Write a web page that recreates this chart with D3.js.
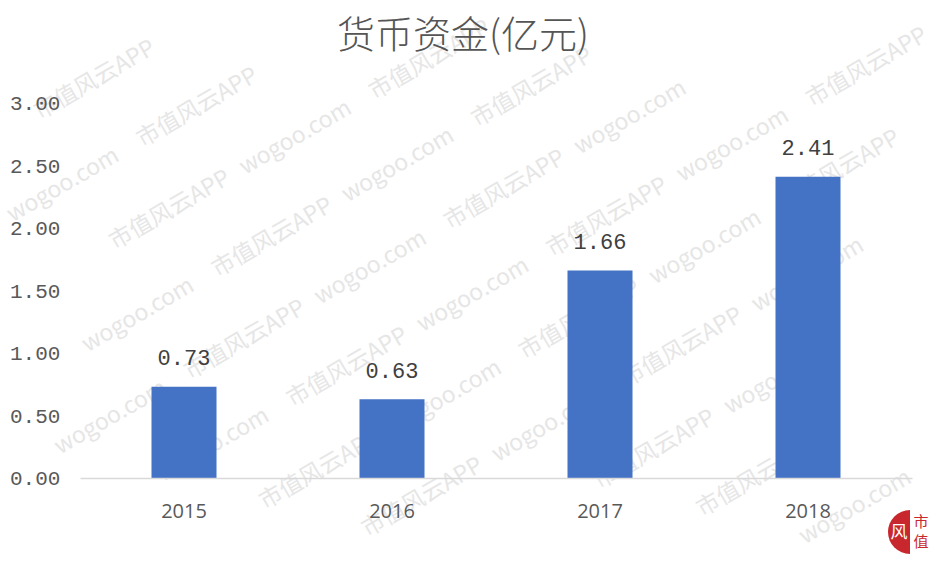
<!DOCTYPE html>
<html><head><meta charset="utf-8">
<script src="https://cdn.jsdelivr.net/npm/d3@7/dist/d3.min.js"></script>
<style>body{margin:0;background:#fff}svg{display:block}</style>
</head><body>
<script>
const categories = ["2015","2016","2017","2018"];
const values = [0.73, 0.63, 1.66, 2.41];
const yTicks = [0, 0.5, 1.0, 1.5, 2.0, 2.5, 3.0];
const title = "货币资金(亿元)";
const watermarkWords = ["市值风云APP", "wogoo.com"];

const W = 941, H = 562;
const svg = d3.select("body").append("svg").attr("width", W).attr("height", H);

// watermark (light, rotated, kept fully inside the canvas)
const wm = svg.append("g").attr("fill", "#e6e6e6")
  .style("font-family", "'Noto Sans CJK SC', 'DejaVu Sans', sans-serif").style("font-size", "23px");
const ang = -30 * Math.PI / 180;
const ux = Math.cos(ang), uy = Math.sin(ang);      // along text
const vx = -uy, vy = ux;                            // across lines
for (let r = -8; r < 14; r++) {
  for (let c = -8; c < 14; c++) {
    const along = c * 150 + (r % 2) * 75, across = r * 75;
    const px = 40 + along * ux + across * vx;
    const py = 120 + along * uy + across * vy;
    const wlen = 125;
    const ex = px + wlen * ux, ey = py + wlen * uy;
    if (px < 2 || ex > W - 2 || ey - 18 < 2 || py + 4 > H - 2) continue;
    wm.append("text").attr("transform", `translate(${px.toFixed(1)},${py.toFixed(1)}) rotate(-30)`)
      .text(watermarkWords[((c % 2) + 2) % 2]);
  }
}

const x = d3.scaleBand().domain(categories).range([80, 912]).paddingInner(0.6875).paddingOuter(0.34375);
const y = d3.scaleLinear().domain([0, 3]).range([478, 103]);

// y axis labels
const yAxis = d3.axisLeft(y).tickValues(yTicks).tickFormat(d3.format(".2f")).tickSize(0).tickPadding(0);
const ya = svg.append("g").attr("transform", "translate(10,0)").call(yAxis);
ya.select(".domain").remove();
ya.selectAll("text").attr("text-anchor", "start").attr("fill", "#595959")
  .style("font-family", "'Liberation Mono', 'DejaVu Sans Mono', monospace").style("font-size", "21px");

// bars
svg.append("g").selectAll("rect").data(values).join("rect")
  .attr("x", (d, i) => x(categories[i])).attr("width", x.bandwidth())
  .attr("y", d => y(d)).attr("height", d => y(0) - y(d)).attr("fill", "#4472c4");

// x axis
const xAxis = d3.axisBottom(x).tickSize(0).tickPadding(26);
const xa = svg.append("g").attr("transform", `translate(0,${y(0)})`).call(xAxis);
xa.select(".domain").attr("stroke", "#d9d9d9").attr("stroke-width", 1.5);
xa.selectAll("text").attr("fill", "#595959")
  .style("font-family", "'Open Sans', 'Liberation Sans', sans-serif").style("font-size", "20px");

// data labels
svg.append("g").selectAll("text").data(values).join("text")
  .attr("x", (d, i) => x(categories[i]) + x.bandwidth() / 2)
  .attr("y", d => y(d) - 29).attr("dy", "0.35em").attr("text-anchor", "middle")
  .attr("fill", "#404040")
  .style("font-family", "'Liberation Mono', 'DejaVu Sans Mono', monospace").style("font-size", "22px")
  .text(d => d.toFixed(2));

// title
svg.append("text").attr("x", 463).attr("y", 35).attr("dy", "0.35em").attr("text-anchor", "middle")
  .attr("fill", "#555").style("font-family", "'Noto Sans CJK SC', sans-serif").style("font-weight", 300)
  .style("font-size", "38px").text(title);

// logo
const lg = svg.append("g").attr("transform", "translate(888,508)");
lg.append("path").attr("d", "M22,2 A22,22 0 0 0 22,46 Z").attr("fill", "#c8282d");
lg.append("text").attr("x", 11).attr("y", 24).attr("dy", "0.35em").attr("text-anchor", "middle")
  .attr("fill", "#fff").style("font-family", "'Noto Sans CJK SC', sans-serif").style("font-size", "17px").text("风");
lg.append("text").attr("x", 33).attr("y", 14).attr("dy", "0.35em").attr("text-anchor", "middle")
  .attr("fill", "#c8282d").style("font-family", "'Noto Sans CJK SC', sans-serif").style("font-size", "15px").text("市");
lg.append("text").attr("x", 33).attr("y", 34).attr("dy", "0.35em").attr("text-anchor", "middle")
  .attr("fill", "#c8282d").style("font-family", "'Noto Sans CJK SC', sans-serif").style("font-size", "15px").text("值");
</script>
</body></html>
